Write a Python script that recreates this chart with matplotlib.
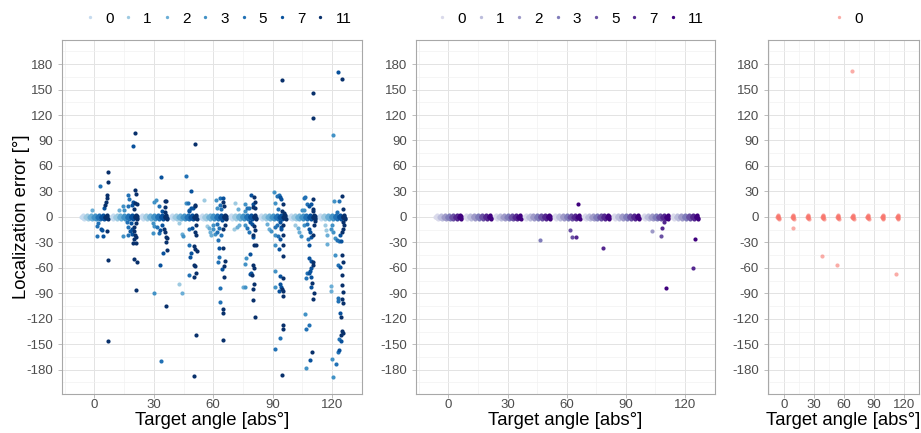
import numpy as np
import matplotlib
matplotlib.use("Agg")
import matplotlib.pyplot as plt
from matplotlib.lines import Line2D
from matplotlib.ticker import MultipleLocator

plt.rcParams["font.family"] = ["Liberation Sans", "DejaVu Sans"]
plt.rcParams["axes.unicode_minus"] = False

targets = [0, 15, 30, 45, 60, 75, 90, 105, 120]
groups = ["0", "1", "2", "3", "5", "7", "11"]
group_shift = [-6, -4, -2, 0, 2, 4, 6]

blues = ["#c6dbef", "#9ecae1", "#6baed6", "#4292c6", "#2171b5", "#08519c", "#08306b"]
purples = ["#dadaeb", "#bcbddc", "#9e9ac8", "#807dba", "#6a51a3", "#54278f", "#3f007d"]
pink = "#f8766d"

# responses that landed on (or right next to) the target
near_dx = [-0.6, -0.3, 0.0, 0.3, 0.6, -0.45, 0.15, 0.45]
near_err = [0.0, 1.5, -1.0, 0.5, -2.0, -0.5, 2.0, -1.5]

# larger errors, (plotted angle, error) per group
blue_1 = [(55.6, 20), (42.9, -6.9), (42.9, -79.1), (56.8, -10.8), (71.2, 16),
          (70.6, -14), (101.5, -9.3), (116.7, -10), (117, -15.9)]
blue_2 = [(-1.2, 8), (12.6, 7.6), (44.3, -19.9), (44.4, -89.4), (57.8, -13.2),
          (58.4, -17.9), (58.9, -21.8), (72.6, 8.8), (71.9, -12), (72.9, -10),
          (75, -82.3), (87.1, -8.1), (88.1, -14), (102.9, -13.2), (103.5, -17.9),
          (117.7, -21.8), (117.7, -32), (119.4, -81.6), (119.7, -87.8)]
blue_3 = [(14.6, 13), (15, 8), (14.6, -22.6), (31, 19.8), (30.3, 17.8),
          (29.5, -6.9), (30.2, -10.5), (29.5, -19.5), (30.3, -89.4), (46.3, 15.9),
          (44.6, -22.6), (61.5, 19.8), (61.8, 10.7), (60.1, -10), (59.8, -14),
          (60.8, -19.9), (76, 14.7), (76.3, 6.5), (76.3, -9.3), (76.6, -48.2),
          (76, -56), (76, -82.3), (90.9, 28.8), (91.4, 15.9), (89.1, -17.1),
          (91.4, -21.8), (91.4, -32.8), (91.4, -64.2), (91.3, -82.3), (104.9, 8),
          (105.9, 7.6), (104.2, -22.6), (105.9, -10), (106.3, -114), (106.8, -178),
          (121.1, 19), (120.7, 96.7), (119.4, -14), (120, -10), (120.7, -17.9),
          (121.4, -25), (121.4, -44.6), (120, -167.8), (120.7, -188.3)]
blue_5 = [(2.9, 35.9), (1.9, -7.3), (1.5, -10.8), (1.5, -22.6),
          (16.7, 25.7), (17.7, 21), (16.7, 13), (16.5, -6), (16.7, -12.4), (16.7, -21.8),
          (32.5, 13), (31.8, -12), (32.5, -18.7), (33.8, -169.5),
          (46.5, 48), (47.3, 15.9), (47.7, 8), (48, -14), (48, -33.6), (48, -69),
          (63.5, 21.8), (63.5, 13.5), (63.8, 8.8), (62.1, -8.1), (61.8, -17.9),
          (63.1, -13.2), (63.8, -21.8), (62.8, -47), (62.5, -53.2), (63.5, -83.9),
          (63.5, -100.4), (62.5, -27),
          (77.3, 10), (78.3, 10.7), (77, -13.2), (78.3, -17.9),
          (92.1, 24.5), (93.1, 25.7), (92.8, 8.8), (91.1, -12.4), (92.1, -9.3),
          (92.9, -22.6), (93.8, -142.4), (91.3, -155.3),
          (106.1, 22.5), (106.6, 23.7), (107.3, 14.7), (107.3, -8.5), (107.9, -26.5),
          (107.3, -66.6), (106.9, -72.1), (106.9, -132.6), (108.3, -127.8),
          (123.4, 18.2), (122.6, 5.7), (122.4, -27.3), (123.4, -28.9), (123.1, -57.2),
          (123.1, -95.6), (123.1, -99.5), (123.4, -144.3), (123.1, -159.3), (122, -173.4)]
blue_7 = [(4.8, 11), (3.5, -14), (4, -16), (4.5, -22),
          (19.4, 83.7), (19.5, 17.8), (19, 14.3), (18.7, -6.9), (19, -14.8), (18, -16.3),
          (19, -19.9),
          (33.8, 46.5), (34.2, 7.2), (34.2, -10), (33.3, -15.9), (34.5, -42.3), (33.2, -57.2),
          (49, 30), (48.7, 10.4), (49.8, 10.8), (48, 6.5), (49.3, -13.2), (48.7, -42.3),
          (48.3, -47),
          (64.8, 22.5), (64.5, -4.1), (63, -36.7), (64.5, -61.1),
          (79.3, 26), (80, 15), (78.6, -6.1), (79.6, -8.1), (80, -23.8), (78.6, -43.8),
          (79, -66.2), (78.6, -67),
          (93.8, 23), (94.4, 20.6), (93.8, -6.1), (94.1, -11.6), (94.4, -14.8),
          (93.8, -25.8), (93.4, -37.5), (93.8, -69.7), (93.8, -78.8), (94.1, -82.7),
          (93.4, -87.8),
          (108.3, 13.1), (109.3, 14.7), (108.3, -14), (108.9, -17.9), (109.3, -23.8),
          (108.6, -33.6), (108.3, -48.5), (109.3, -51.7), (109.6, -60.3), (108.9, -64.2),
          (108.3, -65.8), (109.3, -70.5), (109.3, -82.3), (108.8, -169),
          (122.9, 170.2), (124.1, -21.8), (124.4, -28.9), (124.1, -59.1), (124.1, -113.3),
          (124.4, -145.9), (123.7, -157.3)]
blue_11 = [(6.6, 52.8), (6.8, 40.6), (6.4, 25.3), (6.2, 22), (5.9, 17), (5.4, 14),
           (6.6, -51), (6.6, -146), (6.3, -17),
           (20.6, 99), (20.4, 31.2), (21, 26.5), (20.6, 16.6), (21.6, 15), (20.2, 9.5),
           (21.2, -7.3), (20, -12), (19.9, -17), (20.7, -21.8), (21, -23.8), (20, -25.8),
           (19.7, -30.9), (21, -30.9), (20.2, -49.3), (21.4, -52.9), (21, -86.2),
           (35.4, 19), (36.4, 18.2), (35.4, 11.2), (35.4, 6.1), (35, -14.8), (35.9, -17.9),
           (36.2, -23.4), (36.6, -25), (36.2, -29.7), (36.6, -39.1), (36.4, -105.5),
           (50.9, 85.4), (50.7, 12.7), (51, 14.3), (51.4, -10), (50.7, -17.9), (51.4, -21),
           (50.4, -34.4), (51, -37.6), (51.7, -40.6), (50.4, -56.4), (51, -58.3),
           (50.4, -70.5), (51.4, -65.8), (51.4, -139.2), (50.4, -187.9),
           (65.2, 17.1), (65.5, 12.7), (65.2, -14), (65.9, -10), (65, -36.7), (65.9, -52.4),
           (65.5, -58.3), (65.5, -71.3), (65.2, -108.2), (64.8, -113), (65.2, -145.5),
           (80.7, 23), (81, 17.4), (80.3, 11.9), (81.3, 10), (80.7, -10.8), (81, -15.9),
           (80.3, -21), (80.7, -33.6), (81.8, -33.6), (80, -57.2), (80.7, -60.3),
           (79.6, -69), (80.7, -79.5), (80.3, -85.4), (80.3, -97.6), (81, -118.4),
           (95, 160.8), (95.2, 14.7), (94.8, 6.5), (95.8, 4.1), (95.5, -10), (95.2, -21.8),
           (95.5, -32.8), (95.2, -46.6), (95.5, -72.1), (94.8, -84.7), (95.5, -87),
           (95.5, -93.7), (95.1, -127.8), (95.1, -131.8), (94.8, -186.7),
           (110.5, 146), (110.6, 116.7), (110.3, 20.6), (110.3, 9.5), (110.6, 6.5),
           (110.6, -21.8), (111, -10), (111.6, -5.3), (110.3, -53.2), (110.6, -57.2),
           (110, -77.6), (111, -89.4), (110.3, -97.2), (110, -159.2),
           (125.3, 163), (124.9, 24.5), (125.8, 9.5), (125.1, -17.9), (125.8, -14),
           (126.1, -10), (125.5, -6.1), (125.1, -44.6), (125.8, -53.2), (125.1, -68.9),
           (125.1, -80), (125.5, -88.6), (125.1, -97.2), (125.5, -101.2), (124.7, -118.4),
           (125.1, -134.2), (125.5, -137.3), (124.7, -139.6)]

purple_2 = [(103.2, -16.7)]
purple_3 = [(46.3, -27.7)]
purple_5 = [(61.8, -15.2), (62.6, -24), (107.6, -22.2)]
purple_7 = [(64.6, -23.4), (78.6, -37.1), (108.4, -12.8), (109.3, -6.5), (124.2, -60.3)]
purple_11 = [(65.7, 15.5), (110.3, -83.9), (125.3, -26.2)]

pink_0 = [(8.7, -13.6), (38.4, -46.2), (52.8, -57.2), (68.5, 171.7), (112, -67.8)]

W, H = 921, 433


def draw_panel(ax, names, colors, outliers, alpha=1.0):
    for i, name in enumerate(names):
        bx = [t + group_shift[i] + dx for t in targets for dx in near_dx]
        by = [e for t in targets for e in near_err]
        ax.scatter(bx, by, s=9, color=colors[i], alpha=alpha, linewidths=0, zorder=3)
        pts = outliers.get(name, [])
        if pts:
            px, py = np.array(pts).T
            ax.scatter(px, py, s=9, color=colors[i], alpha=alpha, linewidths=0, zorder=3)

    ax.set_xlim(-16.4, 135.2)
    ax.set_ylim(-208, 208)
    ax.set_xticks([0, 30, 60, 90, 120])
    ax.set_yticks(np.arange(-180, 181, 30))
    ax.xaxis.set_minor_locator(MultipleLocator(15))
    ax.yaxis.set_minor_locator(MultipleLocator(15))
    ax.grid(which="major", color="#e3e3e3", linewidth=0.7)
    ax.grid(which="minor", color="#f1f1f1", linewidth=0.5)
    ax.set_axisbelow(True)
    ax.tick_params(which="minor", length=0)
    ax.tick_params(which="major", length=2.75, width=0.6, color="#b3b3b3",
                   labelsize=9.5, labelcolor="#4d4d4d")
    ax.tick_params(axis="x", pad=1.5)
    ax.tick_params(axis="y", pad=3.5)
    for sp in ax.spines.values():
        sp.set_color("#a8a8a8")
        sp.set_linewidth(0.8)
    ax.set_xlabel("Target angle [abs°]", fontsize=13.3, labelpad=0.5)


def add_legend(fig, names, colors, cx, alpha=1.0):
    handles = [Line2D([], [], ls="", marker="o", ms=2.4, mfc=c, mec="none", alpha=alpha)
               for c in colors]
    fig.legend(handles, names, loc="center", bbox_to_anchor=(cx / W, 1 - 18.8 / H),
               ncol=len(names), frameon=False, fontsize=11, handlelength=1.0,
               handletextpad=0.48, columnspacing=0.48, borderpad=0, borderaxespad=0)


fig = plt.figure(figsize=(W / 100, H / 100), dpi=100)
bottom = (H - 393.5) / H
height = 353.2 / H
ax1 = fig.add_axes([62 / W, bottom, 300 / W, height])
ax2 = fig.add_axes([416 / W, bottom, 299 / W, height])
ax3 = fig.add_axes([767.7 / W, bottom, 151.3 / W, height])

draw_panel(ax1, groups, blues,
           {"1": blue_1, "2": blue_2, "3": blue_3, "5": blue_5, "7": blue_7, "11": blue_11})
draw_panel(ax2, groups, purples,
           {"2": purple_2, "3": purple_3, "5": purple_5, "7": purple_7, "11": purple_11})
draw_panel(ax3, ["0"], [pink], {"0": pink_0}, alpha=0.6)

fig.text(21 / W, 1 - 217 / H, "Localization error [°]", rotation=90,
         ha="center", va="center", fontsize=13.3)

add_legend(fig, groups, blues, 216.8)
add_legend(fig, groups, purples, 569.1)
add_legend(fig, ["0"], [pink], 847.1, alpha=0.6)

fig.savefig("out.png", dpi=100)
